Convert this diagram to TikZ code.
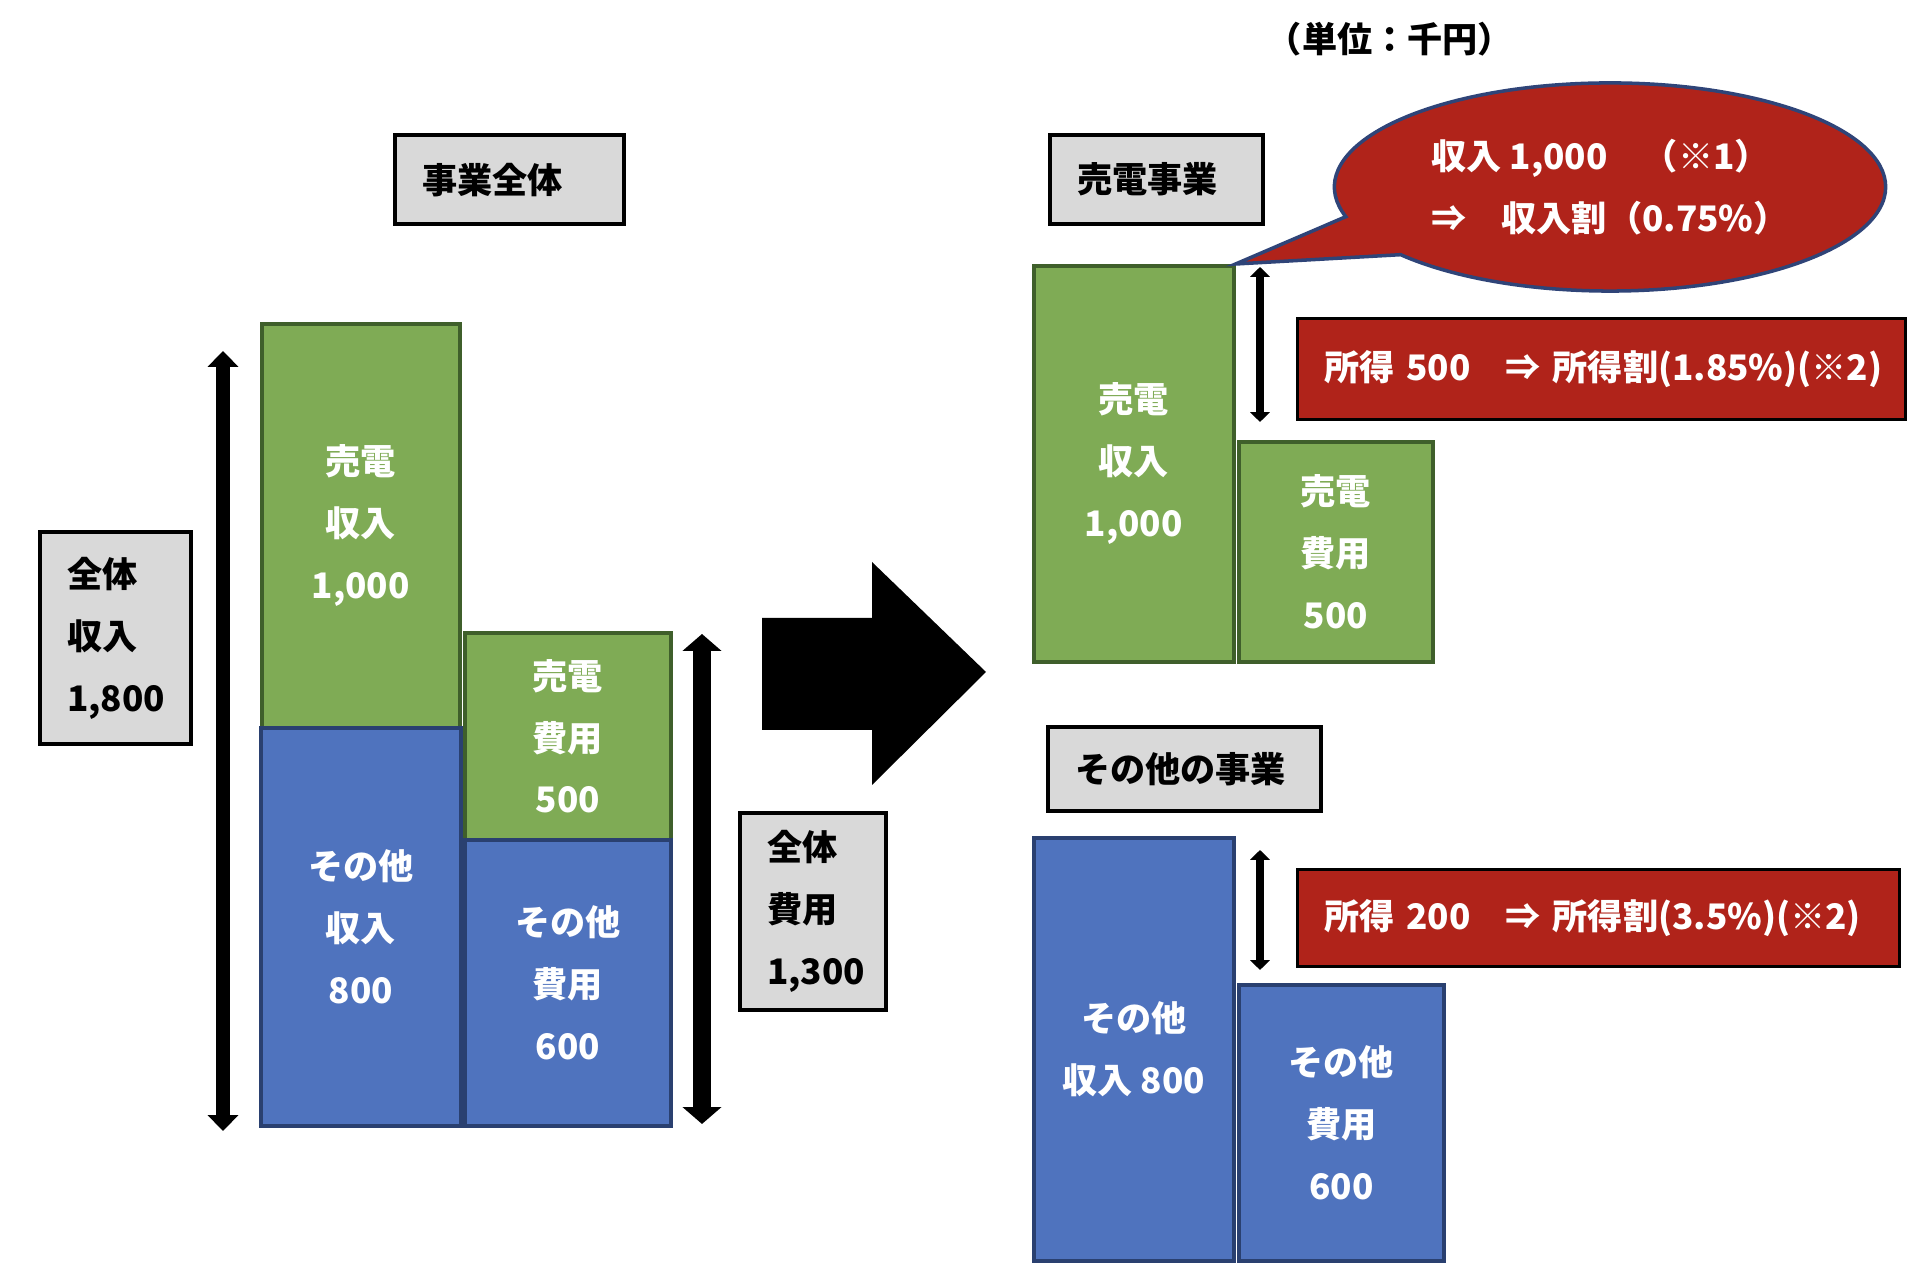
\documentclass[tikz,border=0pt]{standalone}
\usepackage{fontspec}
\setmainfont{Noto Sans CJK JP}
\usepackage{tikz}
\usetikzlibrary{shapes.callouts,arrows.meta,positioning}

\definecolor{sellGreen}{HTML}{7FAB55}
\definecolor{sellEdge}{HTML}{3F5F2B}
\definecolor{otherBlue}{HTML}{4F73BE}
\definecolor{otherEdge}{HTML}{2A4070}
\definecolor{taxRed}{HTML}{B0231A}
\definecolor{noteEdge}{HTML}{2F4478}
\definecolor{tagGray}{HTML}{D9D9D9}

\begin{document}
\begin{tikzpicture}[x=0.01cm, y=-0.01cm, font=\bfseries\fontsize{10}{17.6}\selectfont]
        \tikzstyle{tagbox} = [rectangle, draw=black, line width=1.2pt, fill=tagGray, align=left, inner xsep=0.27cm, anchor=north west]
        \tikzstyle{bar} = [rectangle, draw, line width=1pt, text=white, align=center, anchor=north west]
        \tikzstyle{greenbar} = [bar, fill=sellGreen, draw=sellEdge]
        \tikzstyle{bluebar} = [bar, fill=otherBlue, draw=otherEdge]
        \tikzstyle{taxbox} = [rectangle, draw=black, line width=0.8pt, fill=taxRed, text=white, align=left, inner xsep=0.27cm, anchor=north west]
        \tikzstyle{talk} = [ellipse callout, draw=noteEdge, line width=1pt, fill=taxRed, text=white, align=left, inner sep=0pt, callout pointer arc=24]
        \tikzstyle{wide dim} = [line width=4.2pt, {Triangle[width=8.5pt,length=4.5pt]}-{Triangle[width=8.5pt,length=4.5pt]}]
        \tikzstyle{thin dim} = [line width=2pt, {Triangle[width=5.5pt,length=2.8pt]}-{Triangle[width=5.5pt,length=2.8pt]}]
        \useasboundingbox (0,0) rectangle (1920,1283);

        \node (unit) at (1390,39) {（単位：千円）};

        % whole business
        \node [tagbox, text width=1.75cm, minimum width=2.29cm, minimum height=0.89cm] (hdrAll) at (393,133) {事業全体};
        \node [tagbox, text width=0.97cm, minimum width=1.51cm, minimum height=2.12cm] (incAll) at (38,530) {全体\\収入\\1,800};
        \node [greenbar, minimum width=1.98cm, minimum height=4.04cm] (sellInc) at (260,322) {売電\\収入\\1,000};
        \node [bluebar, minimum width=2.00cm, minimum height=3.98cm] (otherInc) at (259,726) {その他\\収入\\800};
        \node [greenbar, minimum width=2.06cm, minimum height=2.07cm] (sellCost) at (463,631) {売電\\費用\\500};
        \node [bluebar, minimum width=2.06cm, minimum height=2.86cm] (otherCost) at (463,838) {その他\\費用\\600};
        \node [tagbox, text width=0.92cm, minimum width=1.46cm, minimum height=1.97cm] (costAll) at (738,811) {全体\\費用\\1,300};

        \coordinate (incTop) at (223,351);
        \coordinate (incBot) at (223,1131);
        \coordinate (costTop) at (702,634);
        \coordinate (costBot) at (702,1124);
        \draw [wide dim] (incBot) -- (incTop);
        \draw [wide dim, line width=5.2pt, {Triangle[width=10.8pt,length=4.8pt]}-{Triangle[width=10.8pt,length=4.8pt]}] (costBot) -- (costTop);

        \fill (762,618) -- (872,618) -- (872,562) -- (986,672) -- (872,785) -- (872,730) -- (762,730) -- cycle;

        % split by business
        \node [tagbox, text width=1.59cm, minimum width=2.13cm, minimum height=0.89cm] (hdrSell) at (1048,133) {売電事業};
        \node [greenbar, minimum width=2.00cm, minimum height=3.96cm] (sellIncR) at (1032,264) {売電\\収入\\1,000};
        \node [greenbar, minimum width=1.94cm, minimum height=2.20cm] (sellCostR) at (1237,440) {売電\\費用\\500};
        \node [taxbox, text width=5.54cm, minimum width=6.08cm, minimum height=1.01cm] (taxSell) at (1296,317) {\mbox{所得 500　⇒ 所得割(1.85\%)(※2)}};
        \node [talk, minimum width=5.51cm, minimum height=2.08cm, callout absolute pointer={(sellIncR.north east)}] (note) at (1610,187) {収入 1,000　（※1）\\⇒　収入割（0.75\%）};

        \node [tagbox, text width=2.19cm, minimum width=2.73cm, minimum height=0.84cm] (hdrOther) at (1046,725) {その他の事業};
        \node [bluebar, minimum width=2.00cm, minimum height=4.23cm] (otherIncR) at (1032,836) {その他\\収入 800};
        \node [bluebar, minimum width=2.05cm, minimum height=2.76cm] (otherCostR) at (1237,983) {その他\\費用\\600};
        \node [taxbox, text width=5.48cm, minimum width=6.02cm, minimum height=0.97cm] (taxOther) at (1296,868) {\mbox{所得 200　⇒ 所得割(3.5\%)(※2)}};

        \coordinate (sellGapTop) at (1260,267);
        \coordinate (sellGapBot) at (1260,422);
        \coordinate (otherGapTop) at (1260,850);
        \coordinate (otherGapBot) at (1260,970);
        \draw [thin dim] (sellGapTop) -- (sellGapBot);
        \draw [thin dim] (otherGapTop) -- (otherGapBot);

\end{tikzpicture}
\end{document}
